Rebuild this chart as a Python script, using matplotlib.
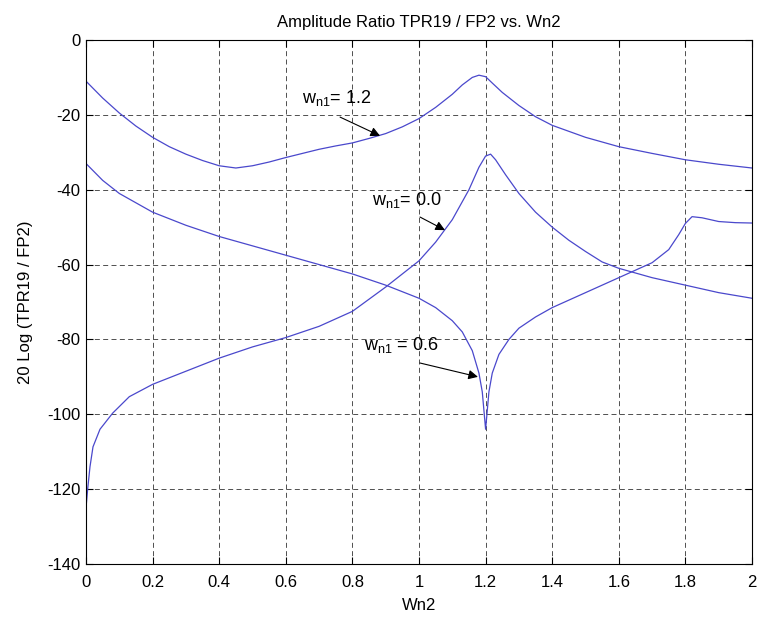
"""Amplitude ratio TPR19 / FP2 against Wn2 for three values of wn1."""

import matplotlib
matplotlib.use("Agg")
import matplotlib.pyplot as plt

plt.rcParams["font.family"] = ["Liberation Sans", "DejaVu Sans"]
plt.rcParams["mathtext.fontset"] = "custom"
plt.rcParams["mathtext.rm"] = "Liberation Sans"
plt.rcParams["mathtext.it"] = "Liberation Sans"
plt.rcParams["axes.unicode_minus"] = False

# ---------------------------------------------------------------------------
# Data
# ---------------------------------------------------------------------------
# wn1 = 1.2
x_12 = [0, 0.05, 0.1, 0.15, 0.2, 0.25, 0.3, 0.35, 0.4, 0.45, 0.5, 0.55, 0.6,
        0.65, 0.7, 0.75, 0.8, 0.85, 0.9, 0.95, 1.0, 1.05, 1.1, 1.13, 1.16,
        1.18, 1.2, 1.22, 1.25, 1.3, 1.35, 1.4, 1.5, 1.6, 1.7, 1.8, 1.9, 2.0]
y_12 = [-11, -15.5, -19.5, -23, -26, -28.5, -30.5, -32.2, -33.6, -34.2,
        -33.6, -32.6, -31.4, -30.3, -29.2, -28.3, -27.5, -26.3, -25, -23.2,
        -21, -18, -14.5, -12, -10, -9.4, -9.8, -11.5, -14, -17.5, -20.5,
        -22.8, -26, -28.5, -30.3, -32, -33.2, -34.2]

# wn1 = 0.0
x_00 = [0, 0.005, 0.012, 0.021, 0.042, 0.08, 0.13, 0.2, 0.3, 0.4, 0.5, 0.6,
        0.7, 0.8, 0.9, 1.0, 1.05, 1.1, 1.15, 1.18, 1.2, 1.215, 1.23, 1.26,
        1.3, 1.35, 1.4, 1.45, 1.5, 1.55, 1.6, 1.7, 1.8, 1.9, 2.0]
y_00 = [-125, -120, -114, -108.7, -104, -99.7, -95.3, -92, -88.5, -85, -82,
        -79.5, -76.5, -72.5, -66, -59, -54, -48, -40, -34, -31, -30.5, -32,
        -36, -41, -46, -50, -53.5, -56.5, -59.3, -61, -63.5, -65.5, -67.5,
        -69]

# wn1 = 0.6
x_06 = [0, 0.05, 0.1, 0.2, 0.3, 0.4, 0.5, 0.6, 0.7, 0.8, 0.9, 1.0, 1.05,
        1.1, 1.13, 1.16, 1.18, 1.19, 1.2, 1.21, 1.22, 1.24, 1.27, 1.3, 1.35,
        1.4, 1.5, 1.6, 1.65, 1.7, 1.75, 1.78, 1.8, 1.82, 1.85, 1.9, 1.95, 2.0]
y_06 = [-33, -37.5, -41, -46, -49.5, -52.5, -55, -57.5, -60, -62.5, -65.5,
        -69, -71.5, -75, -78, -83, -89, -94, -104, -94, -89, -84, -80, -77,
        -74, -71.5, -67.5, -63.5, -61.5, -59.5, -56, -52, -49, -47.2, -47.5,
        -48.5, -48.8, -48.9]

# label text, text anchor (x, y), arrow tail, arrow head
LABELS = [
    (r"$\mathregular{w_{n1}}$= 1.2", (0.649, -16.8), (0.763, -20.6), (0.883, -25.6)),
    (r"$\mathregular{w_{n1}}$= 0.0", (0.859, -44.0), (1.003, -47.3), (1.078, -50.8)),
    (r"$\mathregular{w_{n1}}$ = 0.6", (0.835, -82.8), (1.003, -86.3), (1.177, -90.0)),
]

LINE_COLOR = "#4a48cc"


def main() -> None:
    fig = plt.figure(figsize=(7.6, 6.2), dpi=100)
    ax = fig.add_axes([86 / 760, 56 / 620, 666 / 760, 524 / 620])

    for xs, ys in ((x_12, y_12), (x_00, y_00), (x_06, y_06)):
        ax.plot(xs, ys, color=LINE_COLOR, lw=0.9)

    ax.set_xlim(0, 2)
    ax.set_ylim(-140, 0)
    ax.set_xticks([0, 0.2, 0.4, 0.6, 0.8, 1, 1.2, 1.4, 1.6, 1.8, 2])
    ax.set_xticklabels(["0", "0.2", "0.4", "0.6", "0.8", "1", "1.2", "1.4",
                        "1.6", "1.8", "2"])
    ax.set_yticks(range(-140, 1, 20))

    ax.grid(True, color="#333333", linestyle=(0, (6, 4)), lw=0.6)
    ax.tick_params(direction="in", top=True, right=True, length=5,
                   labelsize=12, width=0.8)
    ax.tick_params(axis="x", pad=8)
    ax.tick_params(axis="y", pad=4)
    for spine in ax.spines.values():
        spine.set_linewidth(0.8)

    for text, pos, tail, head in LABELS:
        ax.text(pos[0], pos[1], text, fontsize=13, ha="left", va="baseline")
        ax.annotate("", xy=head, xytext=tail,
                    arrowprops=dict(arrowstyle="-|>", color="k", lw=0.8,
                                    mutation_scale=14, shrinkA=0, shrinkB=0))

    ax.set_title("Amplitude Ratio TPR19 / FP2 vs. Wn2", fontsize=12, pad=9)
    ax.set_xlabel("Wn2", fontsize=12, labelpad=6)
    ax.set_ylabel("20 Log (TPR19 / FP2)", fontsize=12, labelpad=10)

    fig.savefig("out.png", dpi=100)
    plt.close(fig)


if __name__ == "__main__":
    main()
